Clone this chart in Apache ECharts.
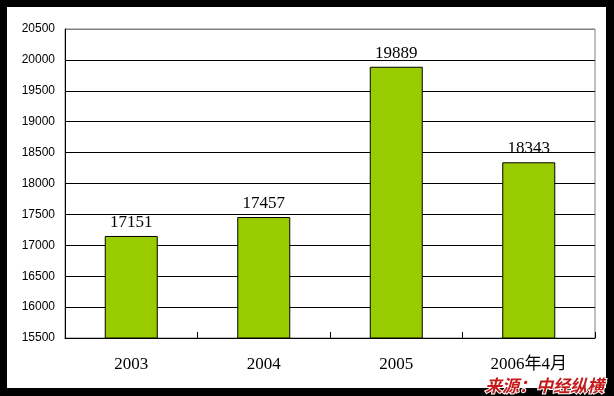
<!DOCTYPE html>
<html><head><meta charset="utf-8">
<script src="https://cdn.jsdelivr.net/npm/echarts@6/dist/echarts.min.js"></script>
<style>html,body{margin:0;padding:0;background:#000;}#c{width:614px;height:396px;}</style>
</head><body><div id="c"></div>
<script>
const categories = ['2003', '2004', '2005', '2006年4月'];
const values = [17151, 17457, 19889, 18343];
const yMin = 15500, yMax = 20500, yStep = 500;
const sourceText = '来源：中经纵横';

const chart = echarts.init(document.getElementById('c'), null, {renderer: 'canvas'});
const gridColors = [];
for (let v = yMin; v <= yMax; v += yStep) gridColors.push(v === yMax ? '#808080' : '#000');
chart.setOption({
  backgroundColor: '#000',
  animation: false,
  graphic: [
    {type: 'rect', shape: {x: 7, y: 7, width: 599, height: 381}, style: {fill: '#fff'}, z: -10, silent: true},
    {type: 'text', right: 9, bottom: 1, z: 10,
     style: {text: sourceText, fill: '#C41A1A', font: 'italic bold 17px "Noto Sans CJK SC"',
             stroke: '#fff', lineWidth: 2}}
  ],
  grid: {left: 65, right: 19, top: 29, bottom: 58, show: true, borderColor: '#808080', borderWidth: 1, backgroundColor: 'transparent'},
  xAxis: {
    type: 'category', data: categories,
    axisLine: {lineStyle: {color: '#000', width: 1}},
    axisTick: {show: true, inside: true, length: 6, lineStyle: {color: '#000'}},
    axisLabel: {color: '#000', fontFamily: 'Liberation Serif, "Noto Sans CJK SC"', fontSize: 17, margin: 18}
  },
  yAxis: {
    type: 'value', min: yMin, max: yMax, interval: yStep,
    axisLine: {show: true, lineStyle: {color: '#000', width: 1}},
    axisTick: {show: false},
    splitLine: {show: true, lineStyle: {color: gridColors, width: 1}},
    axisLabel: {color: '#000', fontFamily: 'Liberation Sans', fontSize: 12, margin: 10,
                formatter: function (v) { return String(v); }}
  },
  series: [{
    type: 'bar', data: values, barWidth: '40%',
    itemStyle: {color: '#99CC00', borderColor: '#000', borderWidth: 1},
    label: {show: true, position: 'top', distance: 5, color: '#000', fontFamily: 'Liberation Serif', fontSize: 17}
  }]
});
</script></body></html>
